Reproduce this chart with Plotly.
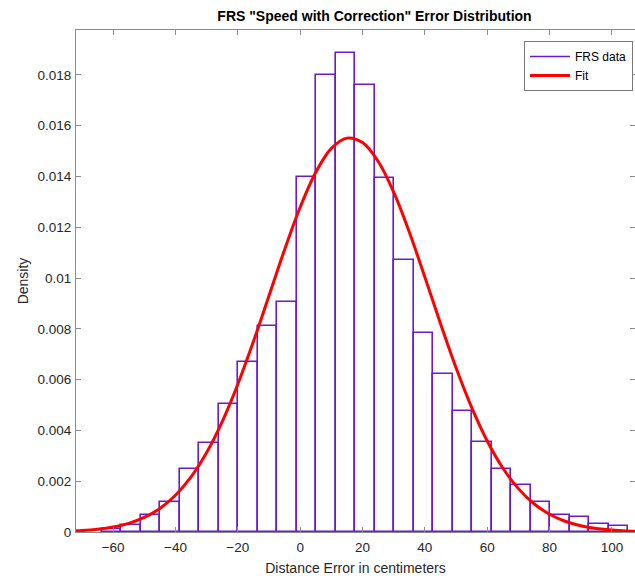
import plotly.graph_objects as go

# ---- data ----
bin_left_edge = -63.6
bin_width = 6.25
density = [0.0001, 0.00026, 0.00067, 0.00117, 0.00249, 0.0035, 0.00506, 0.00668,
           0.00811, 0.00906, 0.01397, 0.01798, 0.01887, 0.0176, 0.01394, 0.01071,
           0.00785, 0.00622, 0.00478, 0.00356, 0.00248, 0.00185, 0.00117, 0.00068,
           0.0006, 0.0003, 0.00024]

fit_x = [-75, -70, -65, -60, -55, -50, -45, -40, -35, -30, -25, -20, -15, -10, -5,
         0, 5, 10, 15, 20, 25, 30, 35, 40, 45, 50, 55, 60, 65, 70, 75, 80, 85, 90,
         95, 100, 105, 110]
fit_y = [0.000029, 0.000057, 0.000108, 0.000196, 0.000342, 0.000574, 0.000928,
         0.001445, 0.002167, 0.003128, 0.004348, 0.00582, 0.007499, 0.009305,
         0.011118, 0.012788, 0.014165, 0.015106, 0.015511, 0.015336, 0.0146,
         0.013382, 0.011811, 0.010037, 0.008213, 0.00647, 0.004908, 0.003584,
         0.002521, 0.001708, 0.001113, 0.000699, 0.000422, 0.000246, 0.000138,
         0.000074, 0.000039, 0.000019]

x_ticks = [-60, -40, -20, 0, 20, 40, 60, 80, 100]
y_ticks = [0, 0.002, 0.004, 0.006, 0.008, 0.01, 0.012, 0.014, 0.016, 0.018]
y_tick_labels = ["0", "0.002", "0.004", "0.006", "0.008", "0.01", "0.012",
                 "0.014", "0.016", "0.018"]

title_text = 'FRS "Speed with Correction" Error Distribution'
x_title = "Distance Error in centimeters"
y_title = "Density"

PURPLE = "rgb(106,27,210)"
RED = "rgb(255,0,0)"
AXIS = "rgb(140,140,140)"
TEXT = "rgb(38,38,38)"
FONT = "Liberation Sans, Arial, sans-serif"

centers = [bin_left_edge + bin_width * (i + 0.5) for i in range(len(density))]

fig = go.Figure()
fig.add_trace(go.Bar(
    x=centers, y=density, width=bin_width,
    marker=dict(color="rgba(255,255,255,0)", line=dict(color=PURPLE, width=1.6)),
    showlegend=False, hoverinfo="x+y",
))
# legend proxy for histogram (line style, as in the reference)
fig.add_trace(go.Scatter(x=[None], y=[None], mode="lines", name="FRS data",
                         line=dict(color=PURPLE, width=1.6)))
fig.add_trace(go.Scatter(x=fit_x, y=fit_y, mode="lines", name="Fit",
                         line=dict(color=RED, width=3, shape="spline")))

fig.update_layout(
    width=635, height=576,
    margin=dict(l=76, r=0, t=30, b=44, autoexpand=False),
    paper_bgcolor="white", plot_bgcolor="white",
    font=dict(family=FONT, color=TEXT, size=13),
    title=dict(text="<b>" + title_text + "</b>", x=0.534, xref="paper",
               xanchor="center", y=1 - 16 / 576, yanchor="middle",
               font=dict(size=14, color="black", family=FONT)),
    bargap=0,
    showlegend=True,
    legend=dict(x=0.9964, y=0.978, xanchor="right", yanchor="top",
                bgcolor="white", bordercolor="rgb(120,120,120)", borderwidth=1,
                font=dict(size=12, color="black", family=FONT),
                tracegroupgap=0, itemwidth=40),
)
fig.update_xaxes(
    range=[-71.9, 107.4], tickvals=x_ticks, ticks="inside", ticklen=5,
    tickcolor=AXIS, showline=True, linecolor=AXIS, linewidth=1, mirror="ticks",
    showgrid=False, zeroline=False, tickfont=dict(size=13.5, color=TEXT),
    automargin=False, ticklabelstandoff=3,
    title=dict(text=x_title, font=dict(size=14, color=TEXT), standoff=10),
)
fig.update_yaxes(
    range=[0, 0.01977], tickvals=y_ticks, ticktext=y_tick_labels, ticks="inside",
    ticklen=5, tickcolor=AXIS, showline=True, linecolor=AXIS, linewidth=1,
    mirror="ticks", showgrid=False, zeroline=False, automargin=False,
    tickfont=dict(size=13.5, color=TEXT), ticklabelstandoff=1,
    title=dict(text=y_title, font=dict(size=14, color=TEXT), standoff=5),
)

fig.write_html("out.html", post_script="document.body.style.margin='0px';",
               config={"displayModeBar": False})
